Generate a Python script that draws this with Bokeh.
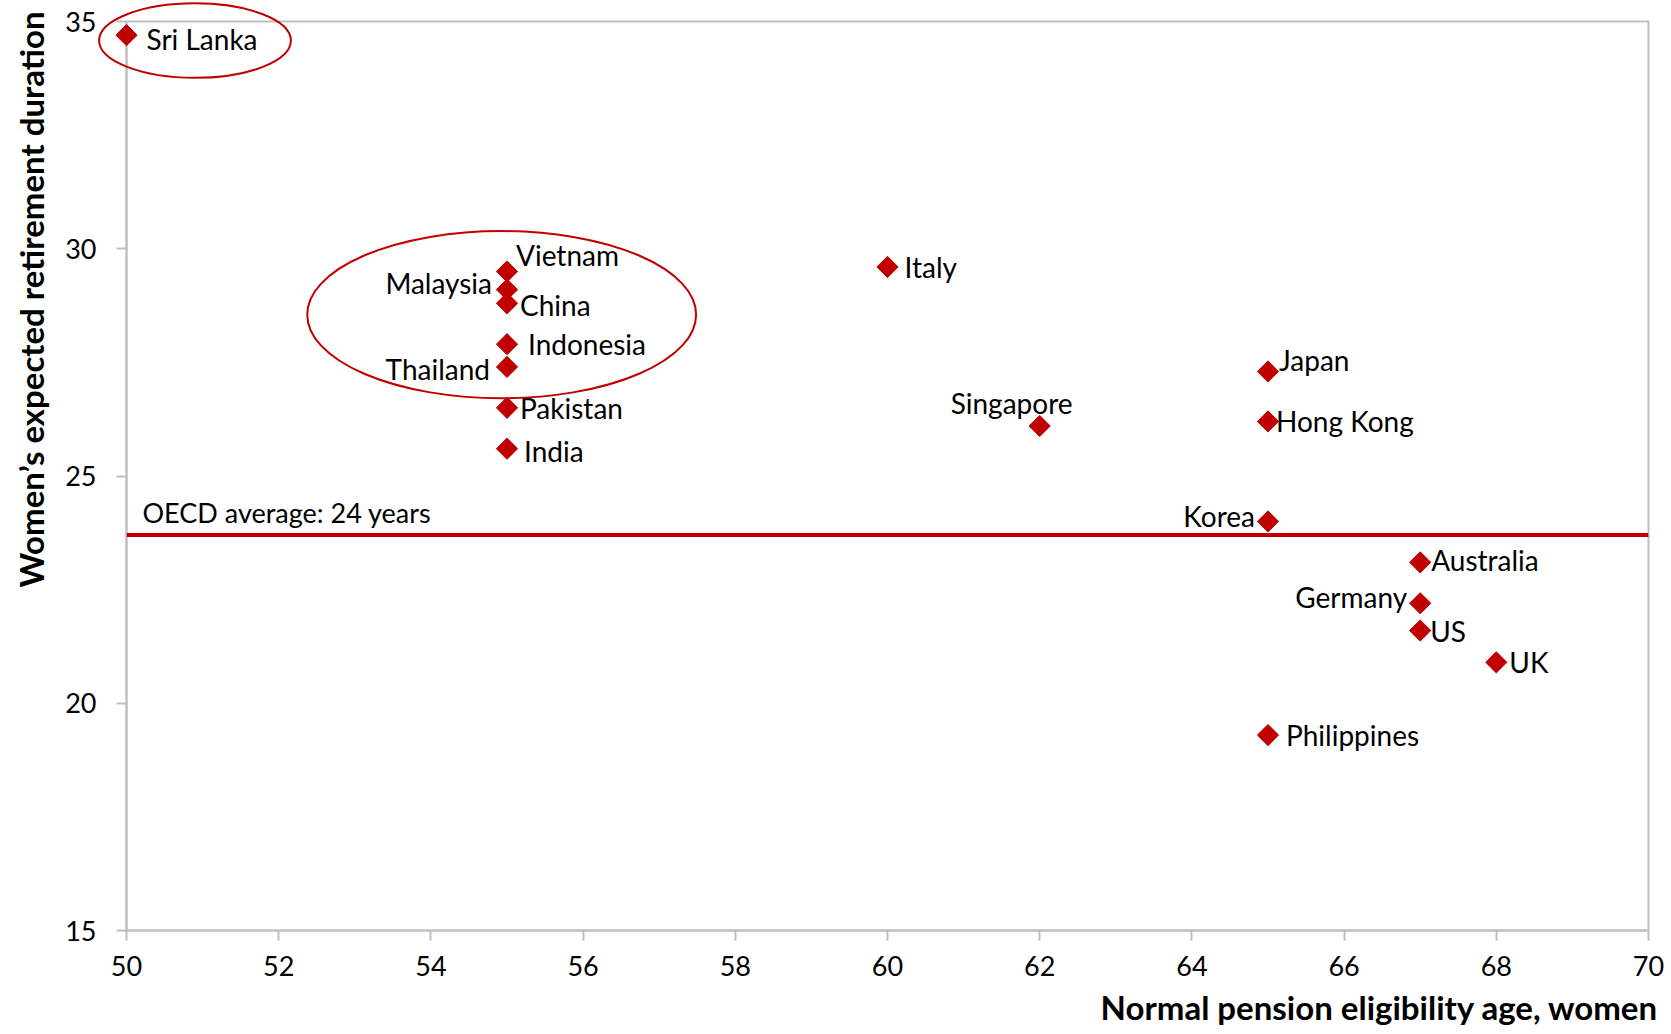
from bokeh.plotting import figure
from bokeh.models import ColumnDataSource, FixedTicker, Span, Title
from bokeh.core.properties import value
from bokeh.embed import file_html
from bokeh.resources import INLINE

# ---- data ----
countries = ["Sri Lanka", "Vietnam", "Malaysia", "China", "Indonesia", "Thailand",
             "Pakistan", "India", "Italy", "Singapore", "Japan", "Hong Kong",
             "Korea", "Australia", "Germany", "US", "UK", "Philippines"]
pension_age = [50, 55, 55, 55, 55, 55, 55, 55, 60, 62, 65, 65, 65, 67, 67, 67, 68, 65]
retirement_duration = [34.7, 29.5, 29.1, 28.8, 27.9, 27.4, 26.5, 25.6, 29.6, 26.1,
                       27.3, 26.2, 24.0, 23.1, 22.2, 21.6, 20.9, 19.3]
oecd_average = 23.7
oecd_label = "OECD average: 24 years"
x_ticks = [50, 52, 54, 56, 58, 60, 62, 64, 66, 68, 70]
y_ticks = [15, 20, 25, 30, 35]

# highlighted groups (ellipses): centre x, centre y, width, height (data units)
ell_x = [50.9, 54.93]
ell_y = [34.58, 28.55]
ell_w = [2.52, 5.11]
ell_h = [1.64, 3.68]

# ---- label placement (screen px) ----
lab_dx = [20, 9, -15, 13, 21, -17, 13, 17, 17, -89, 11, 8, -13, 11, -13, 10, 13, 18]
lab_dy = [4, -16, -7, 2, 0, 2, 0, 2, 0, -23, -11, 0, -5, -2, -6, 0, 0, 0]
lab_al = ["left", "left", "right", "left", "left", "right", "left", "left", "left",
          "left", "left", "left", "right", "left", "right", "left", "left", "left"]

RED = "#C00000"
GRAY = "#BFBFBF"
FONT = "Lato"

p = figure(width=1671, height=1034, x_range=(50, 70), y_range=(15, 35),
           output_backend="svg", toolbar_location=None, title=None,
           min_border_left=126, min_border_right=23, min_border_top=21,
           min_border_bottom=104)
p.background_fill_color = "white"
p.border_fill_color = "white"
p.outline_line_color = GRAY
p.outline_line_width = 2
p.grid.visible = False

for ax in (p.xaxis[0], p.yaxis[0]):
    ax.axis_line_color = GRAY
    ax.axis_line_width = 2
    ax.major_tick_line_color = GRAY
    ax.major_tick_line_width = 2
    ax.major_tick_in = 0
    ax.major_tick_out = 10
    ax.minor_tick_line_color = None
    ax.major_label_text_font = FONT
    ax.major_label_text_font_size = "27px"
    ax.major_label_text_color = "black"
p.xaxis.ticker = FixedTicker(ticks=x_ticks)
p.yaxis.ticker = FixedTicker(ticks=y_ticks)
p.xaxis.major_label_standoff = 15
p.yaxis.major_label_standoff = 20

# OECD average line
p.add_layout(Span(location=oecd_average, dimension="width", line_color=RED, line_width=4))

src = ColumnDataSource(dict(x=pension_age, y=retirement_duration, name=countries,
                            dx=lab_dx, dy=lab_dy, al=lab_al))
p.scatter(x="x", y="y", source=src, marker="square", size=15, angle=0.785398,
          fill_color=RED, line_color=RED, level="overlay")
p.text(x="x", y="y", text="name", source=src, x_offset="dx", y_offset="dy",
       text_align="al", text_baseline="middle", text_font=value(FONT),
       text_font_size="28px", text_color="black", level="overlay")

p.text(x=[x_ticks[0]], y=[oecd_average], text=[oecd_label], x_offset=16, y_offset=-23,
       text_align="left", text_baseline="middle", text_font=value(FONT),
       text_font_size="27px", text_color="black", level="overlay")

p.ellipse(x=ell_x, y=ell_y, width=ell_w, height=ell_h, fill_color=None,
          line_color=RED, line_width=2, level="overlay")

xt = Title(text="Normal pension eligibility age, women", align="right", offset=-10,
           standoff=13, text_font=FONT, text_font_size="33px", text_font_style="bold",
           text_color="black")
p.add_layout(xt, "below")
yt = Title(text="Women\u2019s expected retirement duration", align="right", offset=-10,
           standoff=20, vertical_align="top", text_font=FONT, text_font_size="33px",
           text_font_style="bold", text_color="black")
p.add_layout(yt, "left")

open("out.html", "w").write(file_html(p, INLINE))
